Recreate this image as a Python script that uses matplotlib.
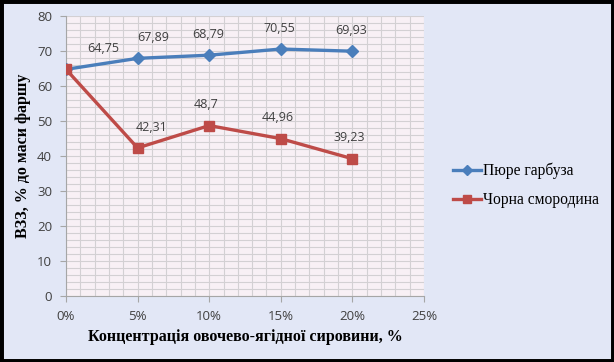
import matplotlib.pyplot as plt
from matplotlib.ticker import MultipleLocator, FuncFormatter

conc = [0, 5, 10, 15, 20]
pumpkin = [64.75, 67.89, 68.79, 70.55, 69.93]
currant = [64.75, 42.31, 48.7, 44.96, 39.23]
labels = ['Пюре гарбуза', 'Чорна смородина']

fig = plt.figure(figsize=(6.14, 3.62), dpi=100, facecolor='#e2e7f6')
ax = fig.add_axes([0.1075, 0.182, 0.583, 0.774])
ax.set_facecolor('#f8f0f5')

ax.plot(conc, pumpkin, color='#4a7ebb', lw=2.4, marker='D', ms=6, label=labels[0], zorder=3)
ax.plot(conc, currant, color='#be4b48', lw=2.4, marker='s', ms=7.5, label=labels[1], zorder=3)

txt = dict(fontsize=9, color='#404040', family='Open Sans')
for i, (x, y) in enumerate(zip(conc, pumpkin)):
    dx = 27 if i == 0 else (11 if i == 1 else -1)
    ax.annotate(str(y).replace('.', ','), (x, y), xytext=(dx, 15), textcoords='offset points',
                ha='center', va='center', **txt)
for i, (x, y) in enumerate(zip(conc[1:], currant[1:])):
    dx = 10 if i == 0 else -2
    ax.annotate(str(y).replace('.', ','), (x, y), xytext=(dx, 15), textcoords='offset points',
                ha='center', va='center', **txt)

ax.set_xlim(0, 25)
ax.set_ylim(0, 80)
ax.xaxis.set_major_locator(MultipleLocator(5))
ax.xaxis.set_minor_locator(MultipleLocator(1))
ax.yaxis.set_major_locator(MultipleLocator(10))
ax.yaxis.set_minor_locator(MultipleLocator(2))
ax.xaxis.set_major_formatter(FuncFormatter(lambda v, p: f'{v:.0f}%'))
ax.grid(which='both', color='#d3d0d3', lw=0.8)
ax.set_axisbelow(True)
for s in ['top', 'right']:
    ax.spines[s].set_visible(False)
for s in ['left', 'bottom']:
    ax.spines[s].set_color('#a6a6a6')
ax.tick_params(which='major', length=4, color='#a6a6a6', labelsize=9.5, labelcolor='#404040', pad=6)
ax.tick_params(which='minor', length=0)
for t in ax.get_xticklabels() + ax.get_yticklabels():
    t.set_family('Open Sans')

ax.set_xlabel('Концентрація овочево-ягідної сировини, %', family='Liberation Serif',
              fontweight='bold', fontsize=11.5, labelpad=4)
ax.set_ylabel('ВЗЗ, % до маси фаршу', family='Liberation Serif',
              fontweight='bold', fontsize=11.5, labelpad=4)

fig.legend(loc='center left', bbox_to_anchor=(0.715, 0.488), frameon=False,
           prop={'family': 'Liberation Serif', 'size': 11.2}, handlelength=1.8,
           handletextpad=0.1, labelspacing=0.85, markerscale=0.8)

fig.patches.append(plt.Rectangle((0, 0), 1, 1, transform=fig.transFigure, fill=False,
                                 edgecolor='black', lw=5, zorder=10))

fig.savefig('out.png', dpi=100, facecolor=fig.get_facecolor())
